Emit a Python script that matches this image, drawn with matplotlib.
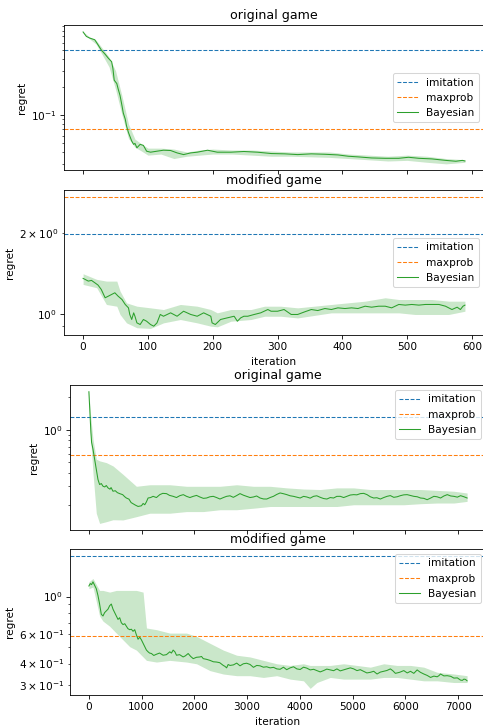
import matplotlib
matplotlib.use("Agg")
import matplotlib.pyplot as plt

# ── Data ────────────────────────────────────────────────────────────────────
# top figure: ~590 iterations
orig_small_imitation = 0.50
orig_small_maxprob = 0.071
orig_small_x = [0, 5, 10, 18, 23, 28, 34, 39, 44, 46, 48, 52, 54, 57, 60, 62, 65, 67, 70, 72,
                75, 78, 80, 83, 88, 93, 98, 104, 114, 124, 135, 145, 155, 166, 176, 192, 207, 228,
                248, 269, 290, 311, 331, 352, 373, 393, 409, 425, 445, 466, 487, 502, 518, 538,
                559, 575, 585, 589]
orig_small_y = [0.783, 0.702, 0.674, 0.646, 0.570, 0.502, 0.451, 0.408, 0.375, 0.317, 0.237, 0.218,
                0.192, 0.162, 0.126, 0.105, 0.0904, 0.0764, 0.0647, 0.0595, 0.0525, 0.0483, 0.0495,
                0.0444, 0.0483, 0.0471, 0.0408, 0.0398, 0.0408, 0.0418, 0.0415, 0.0391, 0.0375,
                0.0391, 0.0398, 0.0418, 0.0398, 0.0398, 0.0405, 0.0398, 0.0385, 0.0382, 0.0375,
                0.0382, 0.0378, 0.0372, 0.0360, 0.0354, 0.0345, 0.0342, 0.0342, 0.0351, 0.0342,
                0.0337, 0.0325, 0.0318, 0.0325, 0.0320]
orig_small_bx = [0, 10, 20, 30, 40, 50, 60, 70, 80, 90, 100, 120, 140, 160, 180, 200, 230, 260,
                 290, 320, 350, 380, 410, 440, 470, 500, 530, 560, 589]
orig_small_lo = [0.77, 0.66, 0.58, 0.44, 0.33, 0.19, 0.10, 0.056, 0.045, 0.041, 0.037, 0.038, 0.034,
                 0.036, 0.037, 0.038, 0.038, 0.037, 0.036, 0.036, 0.0355, 0.035, 0.034, 0.033, 0.032,
                 0.0325, 0.031, 0.0298, 0.031]
orig_small_hi = [0.79, 0.69, 0.64, 0.52, 0.42, 0.30, 0.16, 0.08, 0.055, 0.049, 0.044, 0.044, 0.043,
                 0.040, 0.042, 0.043, 0.042, 0.042, 0.041, 0.040, 0.040, 0.040, 0.038, 0.037, 0.036,
                 0.037, 0.036, 0.034, 0.033]

mod_small_imitation = 1.99
mod_small_maxprob = 2.73
mod_small_x = [0, 3, 8, 13, 18, 23, 28, 34, 39, 44, 49, 54, 60, 65, 70, 72, 75, 78, 80, 83,
               88, 93, 98, 104, 109, 114, 119, 124, 135, 145, 155, 166, 176, 186, 197, 199, 204,
               212, 222, 233, 238, 243, 248, 254, 264, 274, 285, 290, 300, 310, 321, 331, 342,
               352, 362, 373, 383, 393, 404, 414, 424, 435, 445, 456, 466, 476, 487, 497, 507,
               518, 528, 538, 549, 559, 569, 577, 582, 586, 589]
mod_small_y = [1.355, 1.344, 1.324, 1.332, 1.306, 1.280, 1.233, 1.148, 1.164, 1.181, 1.198, 1.164,
               1.131, 1.084, 1.053, 0.995, 0.953, 1.009, 0.980, 0.926, 0.913, 0.953, 0.939, 0.913,
               0.900, 0.926, 0.995, 0.980, 1.009, 0.980, 1.023, 0.995, 0.980, 1.009, 0.980, 0.926,
               0.913, 0.953, 0.966, 0.980, 0.939, 0.966, 0.980, 0.980, 0.995, 1.009, 1.038, 1.023,
               1.023, 1.038, 0.995, 0.995, 1.018, 1.038, 1.029, 1.047, 1.038, 1.053, 1.047, 1.053,
               1.047, 1.068, 1.059, 1.068, 1.068, 1.053, 1.084, 1.078, 1.084, 1.078, 1.084, 1.084,
               1.084, 1.068, 1.038, 1.059, 1.038, 1.068, 1.078]
mod_small_bx = [0, 21, 36, 52, 57, 67, 83, 104, 124, 150, 176, 197, 207, 228, 259, 280, 305, 331,
                383, 435, 466, 487, 512, 538, 564, 589]
mod_small_hi = [1.41, 1.344, 1.324, 1.324, 1.216, 1.099, 1.068, 1.053, 1.038, 1.084, 1.068, 1.038,
                1.009, 1.038, 1.038, 1.068, 1.068, 1.053, 1.084, 1.115, 1.148, 1.131, 1.131, 1.131,
                1.115, 1.115]
mod_small_lo = [1.287, 1.251, 1.084, 1.068, 0.995, 0.926, 0.888, 0.883, 0.926, 0.953, 0.926, 0.900,
                0.895, 0.939, 0.953, 0.980, 0.980, 0.966, 1.009, 1.009, 1.009, 1.009, 0.995, 0.995,
                0.995, 1.023]

# bottom figure: ~7170 iterations
orig_big_imitation = 1.31
orig_big_maxprob = 0.587
orig_big_x = [0, 13, 26, 38, 51, 77, 108, 140, 172, 203,
              235, 267, 300, 330, 362, 400, 420, 457, 500, 540,
              584, 640, 680, 710, 760, 800, 837, 880, 932, 996,
              1028, 1059, 1090, 1122, 1170, 1217, 1280, 1344, 1400, 1471,
              1530, 1597, 1660, 1724, 1790, 1851, 1915, 1978, 2040, 2104,
              2170, 2231, 2295, 2358, 2420, 2485, 2550, 2611, 2675, 2738,
              2800, 2865, 2930, 2992, 3055, 3118, 3180, 3245, 3310, 3372,
              3435, 3498, 3560, 3625, 3690, 3752, 3815, 3879, 3940, 4005,
              4070, 4132, 4195, 4259, 4320, 4386, 4450, 4512, 4575, 4639,
              4700, 4766, 4830, 4893, 4955, 5019, 5080, 5146, 5210, 5273,
              5335, 5399, 5460, 5526, 5590, 5653, 5715, 5780, 5845, 5906,
              5970, 6033, 6095, 6160, 6225, 6287, 6350, 6413, 6475, 6540,
              6600, 6667, 6730, 6794, 6860, 6920, 6985, 7047, 7110, 7170]
orig_big_y = [2.253, 1.690, 1.267, 0.950, 0.766, 0.663, 0.535, 0.4306, 0.347, 0.3115,
              0.318, 0.3006, 0.296, 0.305, 0.290, 0.282, 0.292, 0.270, 0.273, 0.262,
              0.2566, 0.251, 0.240, 0.2337, 0.228, 0.212, 0.2068, 0.201, 0.1952, 0.198,
              0.208, 0.2024, 0.215, 0.2337, 0.236, 0.2422, 0.236, 0.2511, 0.258, 0.2566,
              0.247, 0.2422, 0.236, 0.2457, 0.251, 0.2422, 0.236, 0.2422, 0.247, 0.2388,
              0.232, 0.2337, 0.240, 0.2422, 0.236, 0.2287, 0.236, 0.2422, 0.245, 0.2371,
              0.246, 0.2566, 0.248, 0.2422, 0.236, 0.2388, 0.244, 0.2337, 0.229, 0.2287,
              0.236, 0.2422, 0.252, 0.2603, 0.256, 0.2511, 0.245, 0.2422, 0.238, 0.2337,
              0.242, 0.2388, 0.233, 0.2422, 0.245, 0.2371, 0.231, 0.2287, 0.236, 0.2337,
              0.242, 0.2422, 0.236, 0.2422, 0.249, 0.2511, 0.250, 0.2566, 0.258, 0.2511,
              0.240, 0.2337, 0.235, 0.2287, 0.236, 0.2422, 0.246, 0.2371, 0.240, 0.2457,
              0.250, 0.2511, 0.247, 0.2422, 0.240, 0.2337, 0.232, 0.2254, 0.233, 0.2422,
              0.240, 0.2337, 0.244, 0.2511, 0.244, 0.2422, 0.238, 0.2457, 0.240, 0.2337]
orig_big_bx = [0, 26, 77, 140, 203, 330, 457, 647, 900, 1154, 1534, 1851, 2168, 2485, 2802, 3118,
               3435, 3752, 4069, 4386, 4702, 5019, 5336, 5653, 5970, 6287, 6603, 6920, 7170]
orig_big_hi = [2.26, 1.463, 0.823, 0.535, 0.516, 0.497, 0.463, 0.3866, 0.30, 0.31, 0.31, 0.30, 0.30,
               0.30, 0.31, 0.30, 0.30, 0.29, 0.283, 0.280, 0.29, 0.29, 0.28, 0.28, 0.28, 0.28,
               0.275, 0.27, 0.26]
orig_big_lo = [2.24, 0.95, 0.401, 0.169, 0.136, 0.141, 0.147, 0.1464, 0.157, 0.169, 0.169, 0.175,
               0.175, 0.182, 0.182, 0.188, 0.195, 0.195, 0.195, 0.195, 0.195, 0.2024, 0.2024,
               0.2024, 0.2024, 0.207, 0.21, 0.21, 0.2175]

mod_big_imitation = 1.75
mod_big_maxprob = 0.585
mod_big_x = [0, 26, 51, 77, 108, 140, 172, 203, 235, 267,
             298, 330, 362, 393, 425, 457, 488, 520, 552, 584,
             615, 647, 680, 710, 740, 774, 805, 837, 869, 900,
             932, 964, 996, 1027, 1059, 1091, 1122, 1150, 1186, 1230,
             1281, 1340, 1407, 1470, 1534, 1565, 1597, 1630, 1661, 1720,
             1787, 1830, 1882, 1930, 1978, 2040, 2104, 2135, 2168, 2230,
             2295, 2360, 2421, 2480, 2548, 2580, 2611, 2640, 2675, 2740,
             2802, 2865, 2928, 2990, 3055, 3120, 3182, 3245, 3308, 3370,
             3435, 3500, 3562, 3625, 3689, 3750, 3815, 3880, 3942, 4005,
             4069, 4130, 4196, 4260, 4322, 4385, 4449, 4510, 4576, 4640,
             4702, 4765, 4829, 4890, 4956, 5020, 5083, 5145, 5209, 5270,
             5336, 5400, 5463, 5525, 5590, 5650, 5716, 5765, 5811, 5890,
             5970, 6035, 6097, 6160, 6223, 6285, 6350, 6415, 6477, 6540,
             6603, 6635, 6667, 6730, 6794, 6860, 6920, 6985, 7047, 7080,
             7110, 7140, 7170]
mod_big_y = [1.156, 1.195, 1.178, 1.223, 1.167, 1.114, 1.015, 0.903, 0.785, 0.767,
             0.803, 0.822, 0.842, 0.882, 0.903, 0.842, 0.803, 0.767, 0.732, 0.749,
             0.699, 0.682, 0.690, 0.667, 0.645, 0.636, 0.640, 0.622, 0.636, 0.593,
             0.558, 0.574, 0.553, 0.528, 0.504, 0.481, 0.470, 0.462, 0.459, 0.447,
             0.4546, 0.462, 0.4484, 0.452, 0.470, 0.462, 0.481, 0.470, 0.4484, 0.452,
             0.438, 0.445, 0.459, 0.441, 0.428, 0.436, 0.438, 0.441, 0.428, 0.424,
             0.418, 0.410, 0.4085, 0.405, 0.390, 0.385, 0.3773, 0.395, 0.390, 0.393,
             0.4027, 0.388, 0.399, 0.402, 0.3953, 0.380, 0.390, 0.388, 0.3808, 0.383,
             0.3773, 0.380, 0.372, 0.370, 0.3808, 0.368, 0.3773, 0.383, 0.372, 0.369,
             0.3808, 0.376, 0.3668, 0.370, 0.3634, 0.357, 0.3634, 0.371, 0.3668, 0.363,
             0.372, 0.362, 0.3668, 0.372, 0.3773, 0.372, 0.3634, 0.368, 0.360, 0.352,
             0.355, 0.360, 0.3469, 0.356, 0.360, 0.364, 0.372, 0.362, 0.350, 0.355,
             0.3634, 0.352, 0.360, 0.350, 0.3668, 0.355, 0.3469, 0.340, 0.331, 0.337,
             0.334, 0.339, 0.3469, 0.338, 0.339, 0.336, 0.328, 0.329, 0.319, 0.318,
             0.3235, 0.322, 0.316]
mod_big_bx = [0, 77, 203, 267, 393, 520, 647, 774, 900, 1027, 1091, 1281, 1534, 1851, 2041, 2295,
              2548, 2802, 3055, 3308, 3562, 3815, 4069, 4196, 4322, 4576, 4829, 5083, 5336, 5590,
              5843, 6097, 6350, 6603, 6920, 7170]
mod_big_hi = [1.223, 1.281, 1.088, 1.088, 1.063, 1.088, 1.088, 1.088, 1.088, 1.063, 0.651, 0.636,
              0.607, 0.607, 0.58, 0.528, 0.481, 0.4484, 0.438, 0.418, 0.399, 0.39, 0.399, 0.39,
              0.39, 0.39, 0.399, 0.39, 0.3808, 0.399, 0.39, 0.39, 0.3808, 0.355, 0.3469, 0.339]
mod_big_lo = [1.114, 1.14, 0.767, 0.715, 0.667, 0.607, 0.553, 0.504, 0.481, 0.438, 0.418, 0.4085,
              0.418, 0.4085, 0.399, 0.3634, 0.3469, 0.339, 0.339, 0.331, 0.339, 0.3235, 0.316,
              0.285, 0.3088, 0.331, 0.3235, 0.3235, 0.3235, 0.331, 0.331, 0.3235, 0.316, 0.316,
              0.3088, 0.3088]

C = {"imit": "#1f77b4", "maxp": "#ff7f0e", "bayes": "#2ca02c"}


def panel(ax, title, imit, maxp, x, y, bx, lo, hi, legend_loc):
    ax.axhline(imit, color=C["imit"], ls="--", lw=1, label="imitation")
    ax.axhline(maxp, color=C["maxp"], ls="--", lw=1, label="maxprob")
    ax.plot(x, y, color=C["bayes"], lw=1, label="Bayesian")
    ax.fill_between(bx, lo, hi, color=C["bayes"], alpha=0.25, lw=0)
    ax.set_yscale("log")
    ax.set_title(title)
    ax.set_ylabel("regret")
    ax.legend(loc=legend_loc)


# 6.4in wide at ~75 dpi -> 483 x 727 px
fig = plt.figure(figsize=(6.4, 9.633), dpi=75.47)
ax1 = fig.add_axes([0.1325, 0.7655, 0.8696, 0.2001])
ax2 = fig.add_axes([0.1325, 0.5392, 0.8696, 0.1994], sharex=ax1)
ax3 = fig.add_axes([0.1449, 0.2710, 0.8613, 0.1994])
ax4 = fig.add_axes([0.1449, 0.0440, 0.8613, 0.2008], sharex=ax3)

panel(ax1, "original game", orig_small_imitation, orig_small_maxprob,
      orig_small_x, orig_small_y, orig_small_bx, orig_small_lo, orig_small_hi, "center right")
panel(ax2, "modified game", mod_small_imitation, mod_small_maxprob,
      mod_small_x, mod_small_y, mod_small_bx, mod_small_lo, mod_small_hi, "center right")
panel(ax3, "original game", orig_big_imitation, orig_big_maxprob,
      orig_big_x, orig_big_y, orig_big_bx, orig_big_lo, orig_big_hi, "upper right")
panel(ax4, "modified game", mod_big_imitation, mod_big_maxprob,
      mod_big_x, mod_big_y, mod_big_bx, mod_big_lo, mod_big_hi, "upper right")

ax1.tick_params(labelbottom=False)
ax3.tick_params(labelbottom=False)
ax2.set_xlabel("iteration")
ax4.set_xlabel("iteration")

fig.savefig("out.png", dpi=fig.dpi)
